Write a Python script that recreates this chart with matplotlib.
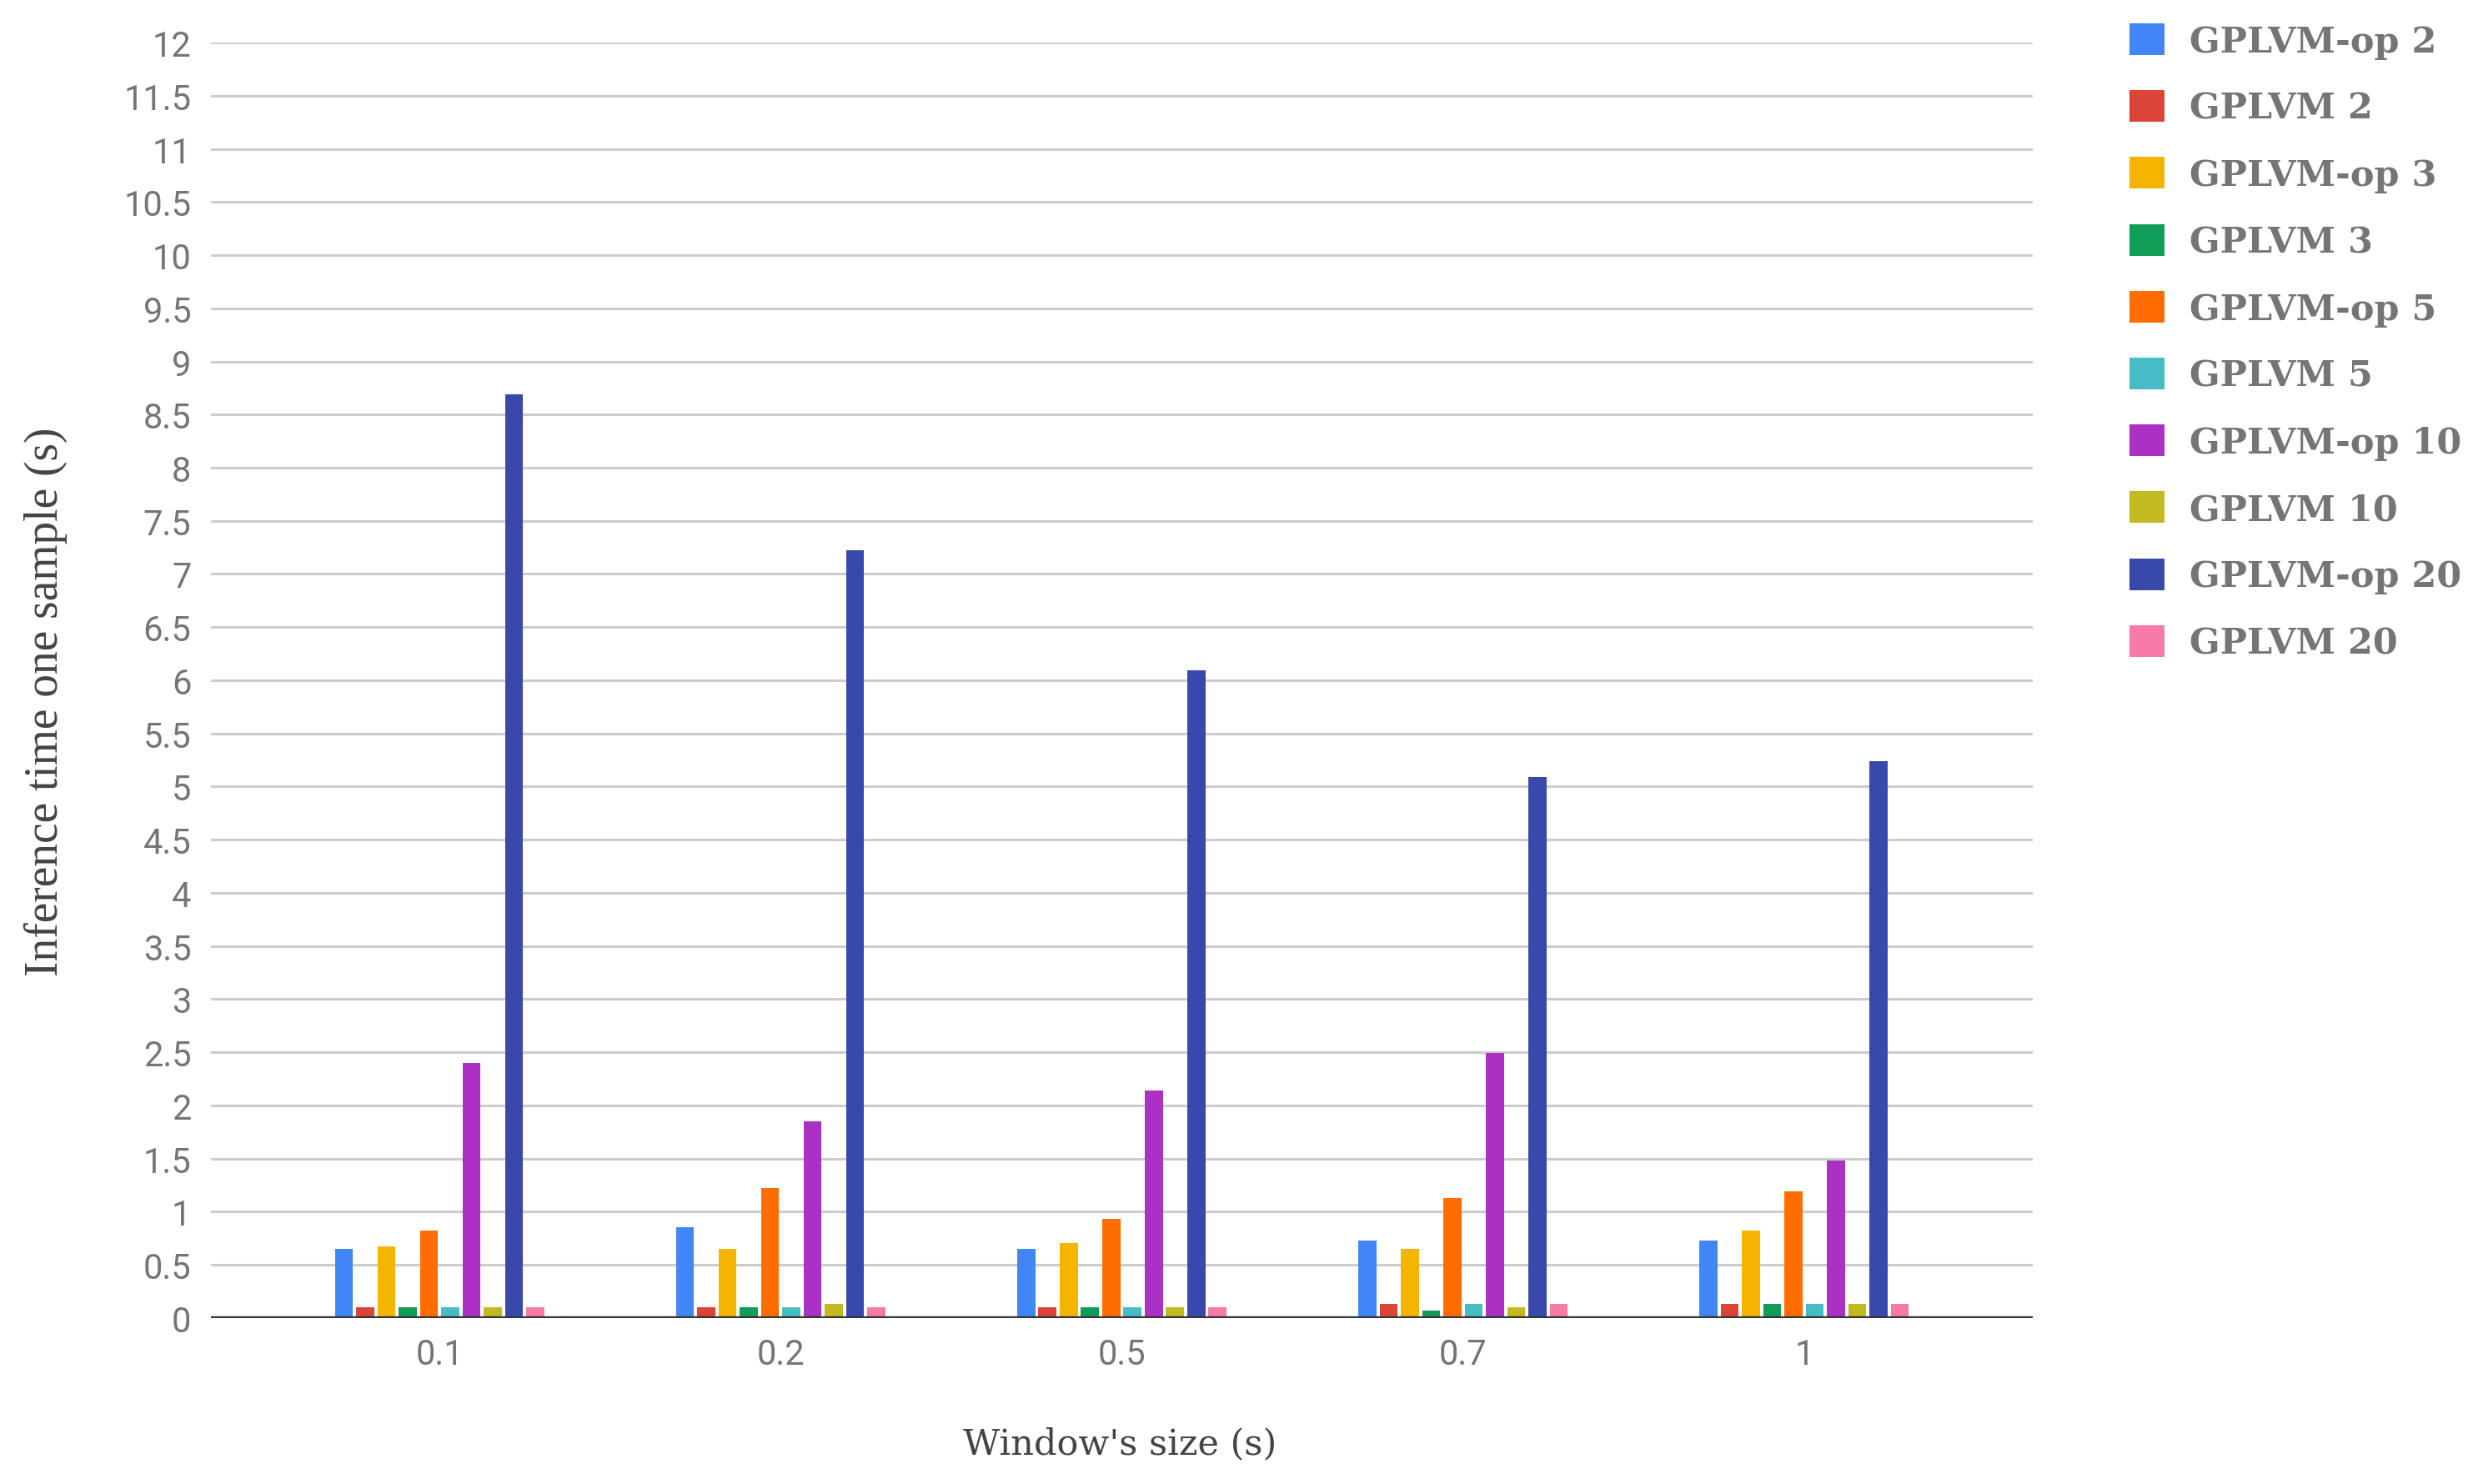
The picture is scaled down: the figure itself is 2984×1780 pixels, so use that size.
import matplotlib
matplotlib.use("Agg")
import matplotlib.pyplot as plt
import numpy as np

# ---- data ----
categories = ["0.1", "0.2", "0.5", "0.7", "1"]
series_names = ["GPLVM-op 2", "GPLVM 2", "GPLVM-op 3", "GPLVM 3", "GPLVM-op 5",
                "GPLVM 5", "GPLVM-op 10", "GPLVM 10", "GPLVM-op 20", "GPLVM 20"]
gplvm_op_2 = [0.65, 0.85, 0.65, 0.73, 0.73]
gplvm_2 = [0.10, 0.10, 0.10, 0.13, 0.13]
gplvm_op_3 = [0.67, 0.65, 0.70, 0.65, 0.82]
gplvm_3 = [0.10, 0.10, 0.10, 0.07, 0.13]
gplvm_op_5 = [0.82, 1.22, 0.93, 1.13, 1.19]
gplvm_5 = [0.10, 0.10, 0.10, 0.13, 0.13]
gplvm_op_10 = [2.40, 1.85, 2.14, 2.49, 1.48]
gplvm_10 = [0.10, 0.13, 0.10, 0.10, 0.13]
gplvm_op_20 = [8.69, 7.22, 6.09, 5.09, 5.24]
gplvm_20 = [0.10, 0.10, 0.10, 0.13, 0.13]
series_values = [gplvm_op_2, gplvm_2, gplvm_op_3, gplvm_3, gplvm_op_5,
                 gplvm_5, gplvm_op_10, gplvm_10, gplvm_op_20, gplvm_20]
y_ticks = [0, 0.5, 1, 1.5, 2, 2.5, 3, 3.5, 4, 4.5, 5, 5.5, 6, 6.5, 7, 7.5,
           8, 8.5, 9, 9.5, 10, 10.5, 11, 11.5, 12]
y_tick_labels = ["0", "0.5", "1", "1.5", "2", "2.5", "3", "3.5", "4", "4.5",
                 "5", "5.5", "6", "6.5", "7", "7.5", "8", "8.5", "9", "9.5",
                 "10", "10.5", "11", "11.5", "12"]

colors = ["#4285F4", "#DB4437", "#F4B400", "#0F9D58", "#FF6D00",
          "#46BDC6", "#AB30C4", "#C2BA20", "#3949AB", "#F87AA8"]

W, H = 2984, 1781
fig = plt.figure(figsize=(W / 100, H / 100), dpi=100)
ax = fig.add_axes([253 / W, 1 - 1581.7 / H, (2438 - 253) / W, (1581.7 - 52.2) / H])

x = np.arange(len(categories))
n = len(series_values)
pitch = 0.0623
bw = 0.053
handles = []
for i, (vals, c, name) in enumerate(zip(series_values, colors, series_names)):
    off = (i - (n - 1) / 2) * pitch
    b = ax.bar(x + off, vals, width=bw, color=c, label=name, zorder=3, linewidth=0)
    handles.append(b)

ax.set_xlim(-0.67, len(categories) - 1 + 0.67)
ax.set_ylim(0, 12)
ax.set_yticks(y_ticks)
ax.set_yticklabels(y_tick_labels)
ax.set_xticks(x)
ax.set_xticklabels(categories)
for s in ax.spines.values():
    s.set_visible(False)
ax.grid(axis="y", color="#cccccc", linewidth=2.2, zorder=0)
ax.grid(axis="x", visible=False)
ax.axhline(0, color="#333333", linewidth=3.2, zorder=4)
ax.tick_params(axis="both", length=0, labelsize=30, labelcolor="#757575")
ax.tick_params(axis="y", pad=17)
ax.tick_params(axis="x", pad=17)
for lab in ax.get_xticklabels() + ax.get_yticklabels():
    lab.set_fontfamily("Roboto")

fig.text(55 / W, 1 - 842 / H, "Inference time one sample (s)", rotation=90,
         ha="center", va="center", fontsize=40, family="Liberation Serif", color="#444444")
fig.text(1343 / W, 1 - 1732 / H, "Window's size (s)", ha="center", va="center",
         fontsize=31, family="DejaVu Serif", color="#444444")

leg = fig.legend(handles=handles, labels=series_names, loc="upper left",
                 bbox_to_anchor=(2554 / W, 1 - 29 / H), frameon=False,
                 prop={"family": "DejaVu Serif", "weight": "bold", "size": 31},
                 handlelength=0.98, handleheight=0.98, labelspacing=0.87,
                 handletextpad=0.70, borderpad=0, borderaxespad=0)
for t in leg.get_texts():
    t.set_color("#757575")

fig.savefig("out.png", dpi=100)
